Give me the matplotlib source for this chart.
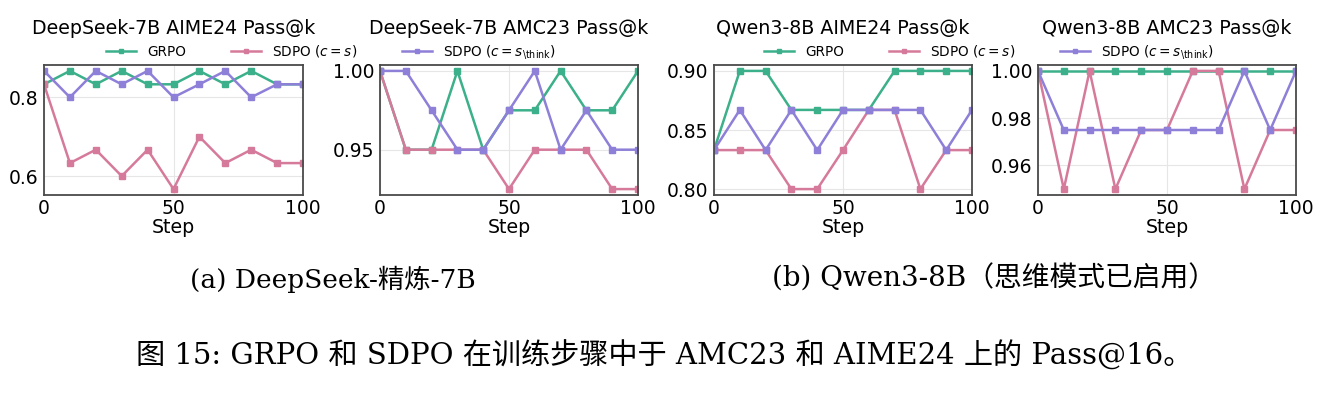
import matplotlib
matplotlib.use('Agg')
import matplotlib.pyplot as plt
from matplotlib.lines import Line2D

steps = [0, 10, 20, 30, 40, 50, 60, 70, 80, 90, 100]

# DeepSeek-7B AIME24
ds_aime_grpo = [0.833, 0.867, 0.833, 0.867, 0.833, 0.833, 0.867, 0.833, 0.867, 0.833, 0.833]
ds_aime_sdpo = [0.833, 0.633, 0.667, 0.600, 0.667, 0.567, 0.700, 0.633, 0.667, 0.633, 0.633]
ds_aime_think = [0.867, 0.800, 0.867, 0.833, 0.867, 0.800, 0.833, 0.867, 0.800, 0.833, 0.833]

# DeepSeek-7B AMC23
ds_amc_grpo = [1.000, 0.950, 0.950, 1.000, 0.950, 0.975, 0.975, 1.000, 0.975, 0.975, 1.000]
ds_amc_sdpo = [1.000, 0.950, 0.950, 0.950, 0.950, 0.925, 0.950, 0.950, 0.950, 0.925, 0.925]
ds_amc_think = [1.000, 1.000, 0.975, 0.950, 0.950, 0.975, 1.000, 0.950, 0.975, 0.950, 0.950]

# Qwen3-8B AIME24
qw_aime_grpo = [0.833, 0.900, 0.900, 0.867, 0.867, 0.867, 0.867, 0.900, 0.900, 0.900, 0.900]
qw_aime_sdpo = [0.833, 0.833, 0.833, 0.800, 0.800, 0.833, 0.867, 0.867, 0.800, 0.833, 0.833]
qw_aime_think = [0.833, 0.867, 0.833, 0.867, 0.833, 0.867, 0.867, 0.867, 0.867, 0.833, 0.867]

# Qwen3-8B AMC23
qw_amc_grpo = [1.000, 1.000, 1.000, 1.000, 1.000, 1.000, 1.000, 1.000, 1.000, 1.000, 1.000]
qw_amc_sdpo = [1.000, 0.950, 1.000, 0.950, 0.975, 0.975, 1.000, 1.000, 0.950, 0.975, 0.975]
qw_amc_think = [1.000, 0.975, 0.975, 0.975, 0.975, 0.975, 0.975, 0.975, 1.000, 0.975, 1.000]

titles = ["DeepSeek-7B AIME24 Pass@k", "DeepSeek-7B AMC23 Pass@k",
          "Qwen3-8B AIME24 Pass@k", "Qwen3-8B AMC23 Pass@k"]
series_labels = ["GRPO", r"SDPO ($c = s$)", r"SDPO ($c = s_{\mathrm{\backslash think}}$)"]
sub_captions = ["(a) DeepSeek-精炼-7B", "(b) Qwen3-8B（思维模式已启用）"]
caption = "图 15: GRPO 和 SDPO 在训练步骤中于 AMC23 和 AIME24 上的 Pass@16。"

colors = ['#3cb08a', '#d67a9b', '#8e7fd8']

panels = [
    (ds_aime_grpo, ds_aime_sdpo, ds_aime_think),
    (ds_amc_grpo, ds_amc_sdpo, ds_amc_think),
    (qw_aime_grpo, qw_aime_sdpo, qw_aime_think),
    (qw_amc_grpo, qw_amc_sdpo, qw_amc_think),
]
yticks = [[0.6, 0.8], [0.95, 1.00], [0.80, 0.85, 0.90], [0.96, 0.98, 1.00]]
yfmt = ['{:.1f}', '{:.2f}', '{:.2f}', '{:.2f}']

W, H = 1328, 398
fig = plt.figure(figsize=(W / 100, H / 100), dpi=100)

# axes boxes in pixels (left, right), top/bottom shared
lefts = [(44, 303), (380, 638), (714, 972), (1038, 1296)]
top_px, bot_px = 65, 195

for i, (xl, xr) in enumerate(lefts):
    ax = fig.add_axes([xl / W, 1 - bot_px / H, (xr - xl) / W, (bot_px - top_px) / H])
    for vals, c in zip(panels[i], colors):
        ax.plot(steps, vals, color=c, marker='s', markersize=4.5, linewidth=1.8)
    ax.set_xlim(0, 100)
    ax.set_xticks([0, 50, 100])
    ax.set_yticks(yticks[i])
    ax.set_yticklabels([yfmt[i].format(v) for v in yticks[i]])
    ax.tick_params(length=0, labelsize=13.5)
    ax.tick_params(axis='x', pad=3)
    ax.tick_params(axis='y', pad=4)
    ax.grid(True, color='#e6e6e6', linewidth=0.8)
    ax.set_axisbelow(True)
    for sp in ax.spines.values():
        sp.set_color('#4a4a4a')
        sp.set_linewidth(1.3)
    ax.set_xlabel('Step', fontsize=13.7, labelpad=0)
    ax.set_title(titles[i], fontsize=13.7, pad=22)

# one legend per sub-figure
handles = [Line2D([], [], color=c, marker='s', markersize=3, linewidth=1.8) for c in colors]
for cx in [331, 989]:
    fig.legend(handles, series_labels, loc='center', bbox_to_anchor=(cx / W, 1 - 52 / H),
               ncol=3, frameon=False, fontsize=9.8, handlelength=2.2,
               columnspacing=3.3, handletextpad=0.8)

cap_font = ['DejaVu Serif', 'Noto Sans CJK SC']
fig.text(333 / W, 1 - 279 / H, sub_captions[0], ha='center', va='center',
         fontsize=19, family=cap_font)
fig.text(994 / W, 1 - 279 / H, sub_captions[1], ha='center', va='center',
         fontsize=20, family=cap_font)
fig.text(664 / W, 1 - 356 / H, caption, ha='center', va='center',
         fontsize=21, family=cap_font)

fig.savefig('out.png', dpi=100)
